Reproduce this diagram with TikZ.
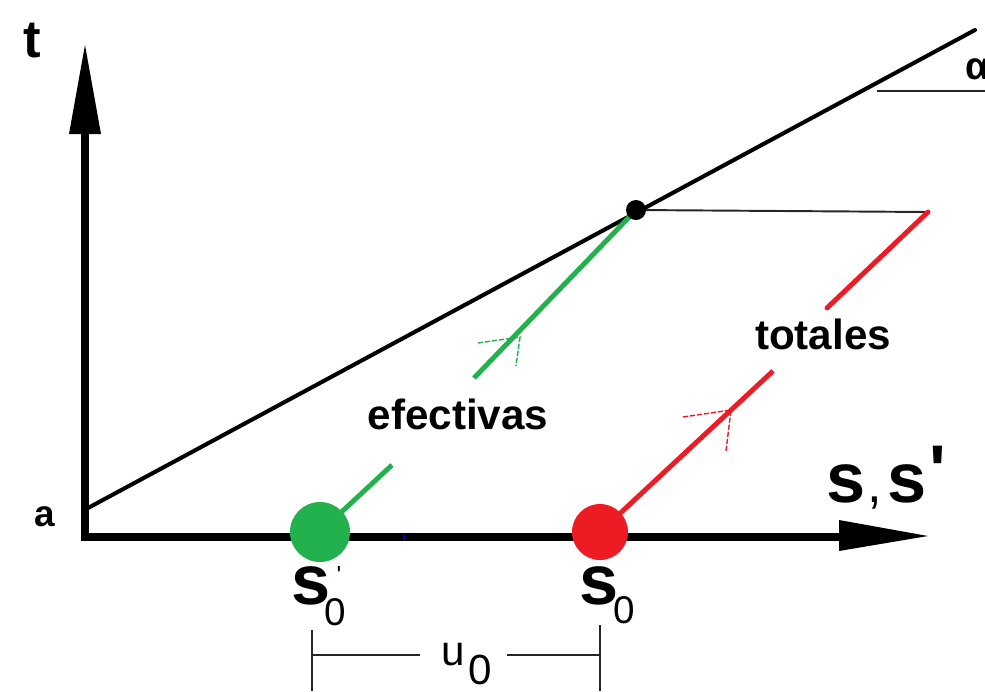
\documentclass[tikz,border=0pt]{standalone}
\usepackage{fontspec}
\setmainfont{Liberation Sans}
\definecolor{pgreen}{HTML}{22B14C}
\definecolor{pred}{HTML}{ED1C24}
\begin{document}
\begin{tikzpicture}[x=0.02cm,y=-0.02cm,
  axis/.style={line width=4pt,line join=miter},
  head/.style={fill=black},
  slope/.style={line width=2.3pt,line cap=round},
  thin/.style={line width=0.9pt,black!85},
  gline/.style={line width=2.8pt,pgreen},
  rline/.style={line width=2.8pt,pred},
  open/.style={line width=0.8pt,dashed,dash pattern=on 3pt off 1pt},
  lbl/.style={inner sep=0pt,font=\fontsize{24}{28}\selectfont\bfseries},
  big/.style={inner sep=0pt,font=\fontsize{40}{44}\selectfont\bfseries},
  sub/.style={inner sep=0pt,font=\fontsize{22}{26}\selectfont}]
\useasboundingbox (0,0) rectangle (985,691);
% coordinates
\coordinate (O) at (85,537);
\coordinate (ytip) at (85,45);
\coordinate (xtip) at (928,536);
\coordinate (A) at (88,508);
\coordinate (Lend) at (975,30);
\coordinate (P) at (636,210);
\coordinate (Q) at (928,212);
\coordinate (G) at (320,532);
\coordinate (R) at (600,532);
% black slope line
\draw[slope] (A) -- (Lend);
\draw[thin] (877,91) -- (985,91);
\node[inner sep=0pt,font=\fontsize{22}{26}\selectfont\bfseries,anchor=west] (alpha) at (965,69) {α};
% horizontal line from point
\draw[thin,line width=1.1pt] (P) -- (Q);
% axes
\draw[axis] (85,133) -- (O) -- (842,537);
\fill[head] (ytip) -- (69,134) -- (101,134) -- cycle;
\fill[head] (xtip) -- (839,520) -- (839,551) -- cycle;
\draw[blue!70!black,line width=1pt] (404,534) -- (404,540);
% green line (efectivas)
\draw[gline] (G) -- (392,465);
\draw[gline] (474,378) -- (P);
\draw[open,pgreen] (478,343) -- (520,337) -- (516,366);
% red line (totales)
\draw[rline] (R) -- (773,371);
\draw[rline,line cap=round] (827,308) -- (Q);
\draw[open,pred] (683,417) -- (731,410) -- (726,451);
% circles and point
\fill[pgreen] (G) circle (30);
\fill[pred] (R) circle (28);
\fill[black] (P) circle (10);
% labels
\node[lbl,font=\fontsize{30}{34}\selectfont\bfseries] (t) at (32,41) {t};
\node[lbl,font=\fontsize{21}{24}\selectfont\bfseries] (a) at (45,517) {a};
\node[lbl] (efe) at (458,414) {efectivas};
\node[lbl] (tot) at (823,334) {totales};
\node[big,anchor=base west] (ss) at (826,502) {s\kern1pt\fontsize{30}{34}\selectfont\mdseries,\kern3pt\fontsize{40}{44}\selectfont\bfseries s\kern2pt\raisebox{4pt}{\textquotesingle}};
% s0'
\node[big] (s0p) at (311,586) {s};
\node[sub] (s0psub) at (335,612) {0};
\node[inner sep=0pt,font=\fontsize{14}{16}\selectfont] (prime) at (339,575) {\textquotesingle};
% s0
\node[big] (s0) at (599,586) {s};
\node[sub] (s0sub) at (624,610) {0};
% dimension
\draw[thin] (312,630) -- (312,691);
\draw[thin] (600,625) -- (600,691);
\draw[thin] (312,655) -- (420,655);
\draw[thin] (507,655) -- (600,655);
\node[inner sep=0pt,font=\fontsize{24}{28}\selectfont] (u) at (453,655) {u};
\node[sub,font=\fontsize{24}{28}\selectfont] (usub) at (480,670) {0};
\end{tikzpicture}
\end{document}
